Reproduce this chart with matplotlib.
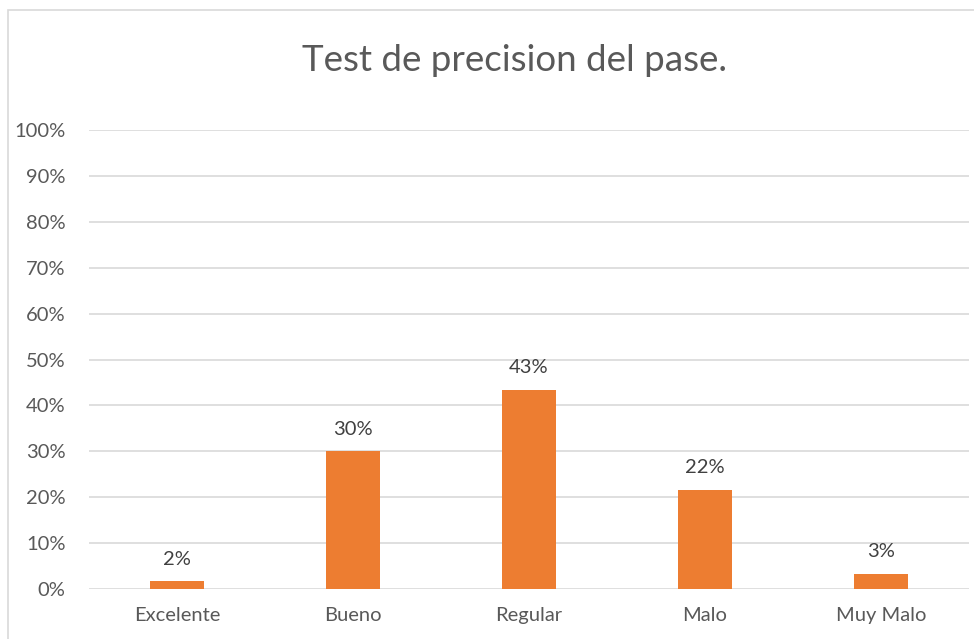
import numpy as np
from matplotlib import pyplot as plt
from matplotlib.patches import Rectangle
from matplotlib.ticker import PercentFormatter

categories = ["Excelente", "Bueno", "Regular", "Malo", "Muy Malo"]
values = [1.67, 30.0, 43.33, 21.67, 3.33]  # percent
labels = ["2%", "30%", "43%", "22%", "3%"]
y_ticks = list(range(0, 101, 10))

plt.rcParams['font.family'] = ['Lato', 'DejaVu Sans']

fig = plt.figure(figsize=(9.74, 6.39), dpi=100)
ax = fig.add_axes([0.0914, 0.0782, 0.9034, 0.7184])

# chart frame (Excel style, cut off at right and bottom)
fig.patches.append(Rectangle((8 / 974, -0.1), 1.2, 1 - 10 / 639 + 0.1,
                             transform=fig.transFigure, fill=False,
                             edgecolor="#d9d9d9", linewidth=1.2))

x = np.arange(len(categories))
ax.bar(x, values, width=0.31, color="#ED7D31", zorder=3)
for xi, v, lab in zip(x, values, labels):
    ax.text(xi, v + 3, lab, ha="center", va="bottom", fontsize=14.5, color="#404040")

ax.set_xlim(-0.5, len(categories) - 0.5)
ax.set_ylim(0, 100)
ax.set_yticks(y_ticks)
ax.yaxis.set_major_formatter(PercentFormatter(decimals=0))
ax.set_xticks(x)
ax.set_xticklabels(categories)
ax.grid(axis="y", color="#d9d9d9", linewidth=1.2, zorder=0)
ax.tick_params(length=0, labelsize=14.5, labelcolor="#595959")
ax.tick_params(axis="x", pad=13)
ax.tick_params(axis="y", pad=17)
for s in ax.spines.values():
    s.set_visible(False)

fig.text(0.528, 0.905, "Test de precision del pase.", ha="center", va="center",
         fontsize=26.5, color="#595959")

fig.savefig("out.png", dpi=100)
